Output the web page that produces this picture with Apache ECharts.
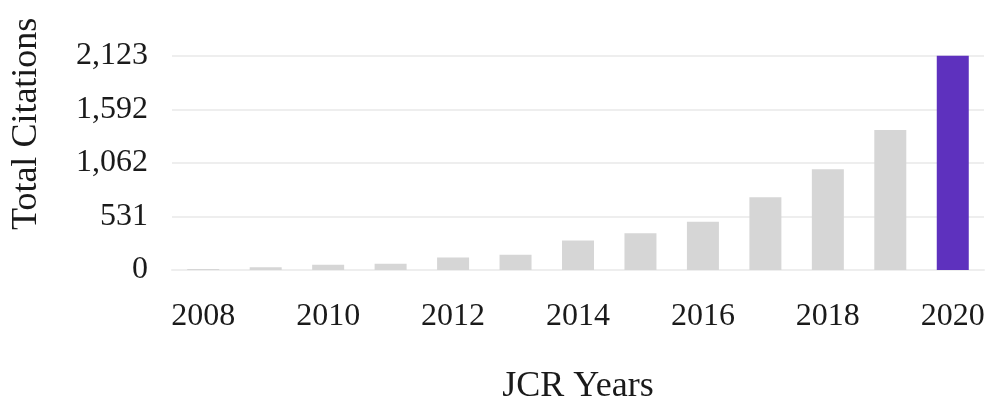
<!DOCTYPE html>
<html>
<head>
<meta charset="utf-8">
<script src="https://cdn.jsdelivr.net/npm/echarts@6/dist/echarts.min.js"></script>
<style>
html,body{margin:0;padding:0;background:#fff;}
#chart{width:989px;height:401px;}
</style>
</head>
<body>
<div id="chart"></div>
<script>
const years = ['2008','2009','2010','2011','2012','2013','2014','2015','2016','2017','2018','2019','2020'];
const citations = [10, 27, 53, 62, 125, 150, 292, 364, 479, 720, 998, 1387, 2123];
const highlightYear = '2020';
const yMax = 2123;

const chart = echarts.init(document.getElementById('chart'), null, {renderer: 'canvas'});
const font = 'Liberation Serif';
chart.setOption({
  animation: false,
  grid: {left: 172, right: 5, top: 55.7, bottom: 131, containLabel: false, outerBoundsMode: 'none'},
  xAxis: {
    type: 'category',
    data: years,
    name: 'JCR Years',
    nameLocation: 'middle',
    nameGap: 99,
    nameTextStyle: {fontFamily: font, fontSize: 36, color: '#1a1a1a'},
    axisLine: {show: true, lineStyle: {color: '#eeeeee', width: 2}},
    axisTick: {show: false},
    axisLabel: {interval: 1, fontFamily: font, fontSize: 32, color: '#1a1a1a', margin: 31}
  },
  yAxis: {
    type: 'value',
    min: 0,
    max: yMax,
    interval: yMax / 4,
    name: 'Total Citations',
    nameLocation: 'middle',
    nameGap: 127,
    nameTextStyle: {fontFamily: font, fontSize: 36, color: '#1a1a1a', padding: [0, 0, 0, 78]},
    axisLine: {show: false},
    axisTick: {show: false},
    splitLine: {lineStyle: {color: '#eeeeee', width: 2}},
    axisLabel: {
      fontFamily: font, fontSize: 32, color: '#1a1a1a', margin: 24,
      padding: [7, 0, 0, 0],
      formatter: v => Math.round(v).toLocaleString('en-US')
    }
  },
  series: [{
    type: 'bar',
    barWidth: 32,
    data: citations.map((v, i) => ({
      value: v,
      itemStyle: {color: years[i] === highlightYear ? '#5e31be' : '#d6d6d6'}
    }))
  }]
});
</script>
</body>
</html>
